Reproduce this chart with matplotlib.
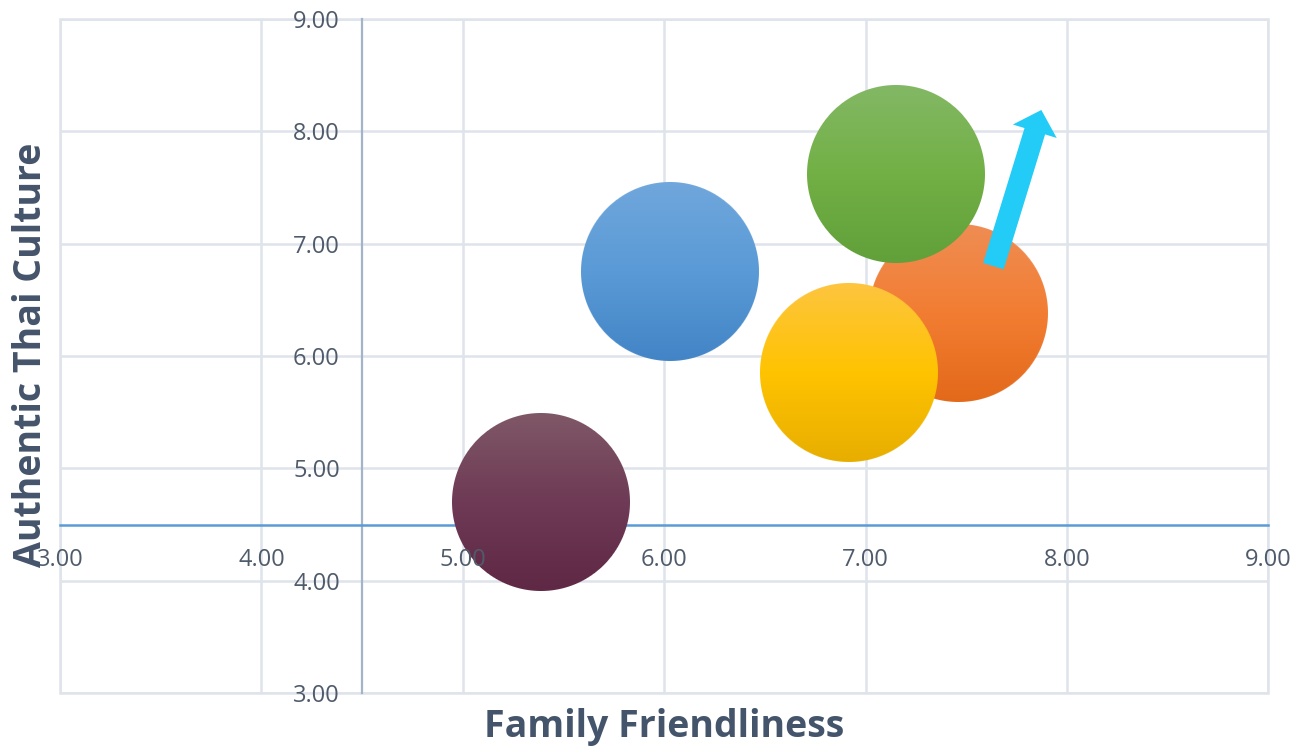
import numpy as np
import matplotlib
matplotlib.use("Agg")
import matplotlib.pyplot as plt
from matplotlib.patches import Rectangle
from matplotlib.colors import to_rgb

# ---------------- data ----------------
family_friendliness = [5.39, 6.03, 7.46, 6.92, 7.15]
authentic_thai_culture = [4.70, 6.75, 6.38, 5.85, 7.62]
x_ticks = [3, 4, 5, 6, 7, 8, 9]
y_ticks = [3, 4, 5, 6, 7, 8, 9]
x_tick_labels = ["3.00", "4.00", "5.00", "6.00", "7.00", "8.00", "9.00"]
y_tick_labels = ["3.00", "4.00", "5.00", "6.00", "7.00", "8.00", "9.00"]
axis_cross = [4.5, 4.5]
arrow_start = [7.635, 6.80]
arrow_end = [7.873, 8.19]
x_title = "Family Friendliness"
y_title = "Authentic Thai Culture"

# ---------------- style ----------------
bubble_gradients = [
    ("#7f5867", "#6e3a55", "#5f2845"),   # purple
    ("#70a7dc", "#5a9ad6", "#4284c6"),   # blue
    ("#ef8d54", "#f27d32", "#e3691a"),   # orange
    ("#fdc540", "#ffc300", "#e7ae00"),   # yellow
    ("#83b865", "#72b045", "#61a03a"),   # green
]
radius_px = 89.0
grid_color = "#dfe3ea"
text_color = "#44546a"
tick_color = "#4f5b6b"
font = "Open Sans"

fig = plt.figure(figsize=(12.93, 7.5), dpi=100)
W, H = 1293, 750
ax = fig.add_axes([60 / W, 1 - 693 / H, 1208.3 / W, 674 / H])
ax.set_xlim(x_ticks[0], x_ticks[-1])
ax.set_ylim(y_ticks[0], y_ticks[-1])

# grid + frame
for xv in x_ticks:
    ax.axvline(xv, color=grid_color, lw=1.8, zorder=0.5)
for yv in y_ticks:
    ax.axhline(yv, color=grid_color, lw=1.8, zorder=0.5)
ax.add_patch(Rectangle((0, 0), 1, 1, transform=ax.transAxes, fill=False,
                       ec=grid_color, lw=1.8, clip_on=False, zorder=0.6))

# spines crossing at (4.5, 4.5)
for s in ["top", "right"]:
    ax.spines[s].set_visible(False)
ax.spines["left"].set_position(("data", axis_cross[0]))
ax.spines["bottom"].set_position(("data", axis_cross[1]))
ax.spines["left"].set_color("#a3b3c8")
ax.spines["left"].set_linewidth(1.6)
ax.spines["bottom"].set_color("#5b9bd5")
ax.spines["bottom"].set_linewidth(1.8)
for s in ["left", "bottom"]:
    ax.spines[s].set_zorder(1)

ax.set_xticks(x_ticks)
ax.set_xticklabels(x_tick_labels)
ax.set_yticks(y_ticks)
ax.set_yticklabels(y_tick_labels)
ax.tick_params(axis="x", length=0, pad=17, labelsize=17, labelcolor=tick_color)
ax.tick_params(axis="y", length=0, pad=16, labelsize=17, labelcolor=tick_color)
for lab in ax.get_xticklabels() + ax.get_yticklabels():
    lab.set_fontfamily(font)
ax.xaxis.set_zorder(10)
ax.yaxis.set_zorder(10)

# bubbles with vertical gradient
fig.canvas.draw()
p0 = ax.transData.transform((0, 0))
px_per_x = ax.transData.transform((1, 0))[0] - p0[0]
px_per_y = ax.transData.transform((0, 1))[1] - p0[1]

n = int(np.ceil(2 * radius_px)) + 4
c = (n - 1) / 2.0
yy, xx = np.mgrid[0:n, 0:n]
dist = np.hypot(xx - c, yy - c)
alpha = np.clip(radius_px - dist + 0.5, 0, 1)
t = np.clip((yy - (c - radius_px)) / (2 * radius_px), 0, 1)

for i, (bx, by) in enumerate(zip(family_friendliness, authentic_thai_culture)):
    top, mid, bot = [np.array(to_rgb(cc)) for cc in bubble_gradients[i]]
    tt = t[..., None]
    rgb = np.where(tt < 0.5, top + (mid - top) * (tt / 0.5),
                   mid + (bot - mid) * ((tt - 0.5) / 0.5))
    img = np.dstack([rgb, alpha])
    hx = (n / 2.0) / px_per_x
    hy = (n / 2.0) / px_per_y
    ax.imshow(img, extent=(bx - hx, bx + hx, by - hy, by + hy),
              aspect="auto", interpolation="bilinear", zorder=3 + i)

ax.set_xlim(x_ticks[0], x_ticks[-1])
ax.set_ylim(y_ticks[0], y_ticks[-1])

# arrow
ax.annotate("", xy=arrow_end, xytext=arrow_start,
            arrowprops=dict(arrowstyle="simple,head_length=16,head_width=33,tail_width=15.5",
                            mutation_scale=1, color="#22ccf6", shrinkA=0, shrinkB=0,
                            lw=0),
            zorder=9)

# axis titles
fig.text(664 / W, 1 - 727 / H, x_title, ha="center", va="center",
         fontsize=27, fontweight="bold", color=text_color, family=font)
fig.text(31 / W, 1 - 355 / H, y_title, ha="center", va="center", rotation=90,
         fontsize=27, fontweight="bold", color=text_color, family=font)

fig.savefig("out.png", dpi=100)
